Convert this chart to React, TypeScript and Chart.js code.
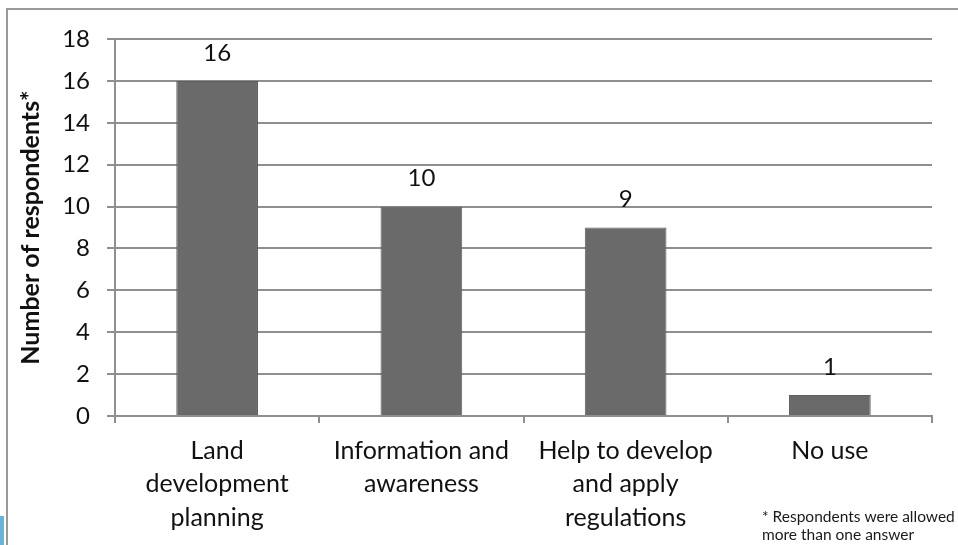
import React, { useEffect, useRef } from "react";
import { Chart, registerables } from "chart.js";

Chart.register(...registerables);

const categories: string[][] = [
  ["Land", "development", "planning"],
  ["Information and", "awareness"],
  ["Help to develop", "and apply", "regulations"],
  ["No use"],
];
const respondents: number[] = [16, 10, 9, 1];
const yTitle = "Number of respondents*";
const footnote: string[] = ["* Respondents were allowed", "more than one answer"];

const FONT = "Lato, 'Open Sans', sans-serif";

const labelsPlugin = {
  id: "barLabels",
  afterDatasetsDraw(chart: any) {
    const ctx = chart.ctx;
    const meta = chart.getDatasetMeta(0);
    ctx.save();
    ctx.font = `24px ${FONT}`;
    ctx.fillStyle = "#111";
    ctx.textAlign = "center";
    ctx.textBaseline = "middle";
    meta.data.forEach((bar: any, i: number) => {
      ctx.fillText(String(respondents[i]), bar.x, bar.y - 28);
    });
    ctx.restore();
  },
  afterDraw(chart: any) {
    const ctx = chart.ctx;
    ctx.save();
    ctx.font = `15.5px ${FONT}`;
    ctx.fillStyle = "#1a1a1a";
    ctx.textAlign = "left";
    ctx.textBaseline = "middle";
    footnote.forEach((t, i) => ctx.fillText(t, 762, 517 + i * 18));
    ctx.restore();
  },
};

export default function App() {
  const ref = useRef<HTMLCanvasElement>(null);
  useEffect(() => {
    document.body.style.margin = "0";
    const chart = new Chart(ref.current!, {
      type: "bar",
      data: {
        labels: categories,
        datasets: [
          {
            data: respondents,
            backgroundColor: "#6a6a6a",
            borderColor: "#5e5e5e",
            borderWidth: 1,
            categoryPercentage: 0.4,
            barPercentage: 1,
          },
        ],
      },
      options: {
        responsive: false,
        animation: false,
        layout: { padding: { left: 0, right: 26, top: 39, bottom: 0 } },
        plugins: { legend: { display: false }, tooltip: { enabled: false } },
        scales: {
          x: {
            afterFit: (s: any) => {
              s.height = 545 - 416;
            },
            grid: {
              drawOnChartArea: false,
              drawTicks: true,
              tickLength: 7,
              color: "#8f8f8f",
              lineWidth: 2,
            },
            border: { display: true, color: "#8f8f8f", width: 2 },
            ticks: {
              color: "#111",
              font: { family: FONT, size: 25, lineHeight: 1.34 },
              padding: 11,
              maxRotation: 0,
              autoSkip: false,
            },
          },
          y: {
            min: 0,
            max: 18,
            afterFit: (s: any) => {
              s.width = 115;
            },
            ticks: {
              stepSize: 2,
              color: "#111",
              font: { family: FONT, size: 24 },
              padding: 17,
            },
            grid: { color: "#8f8f8f", lineWidth: 2, tickLength: 8 },
            border: { display: true, color: "#8f8f8f", width: 2 },
            title: {
              display: true,
              text: yTitle,
              color: "#111",
              font: { family: FONT, size: 25, weight: "bold" },
              padding: { top: 16, bottom: 0 },
            },
          },
        },
      },
      plugins: [labelsPlugin],
    } as any);
    return () => chart.destroy();
  }, []);
  return (
    <div style={{ position: "relative", width: 958, height: 545, background: "#fff" }}>
      <canvas ref={ref} width={958} height={545} style={{ position: "absolute", left: 0, top: 0 }} />
      <div
        style={{
          position: "absolute",
          left: 6,
          top: 8,
          right: 0,
          bottom: 0,
          borderLeft: "2px solid #999",
          borderTop: "2px solid #999",
          pointerEvents: "none",
        }}
      />
      <div
        style={{
          position: "absolute",
          left: 0,
          top: 516,
          width: 4,
          height: 29,
          background: "#6ab4dc",
        }}
      />
    </div>
  );
}
